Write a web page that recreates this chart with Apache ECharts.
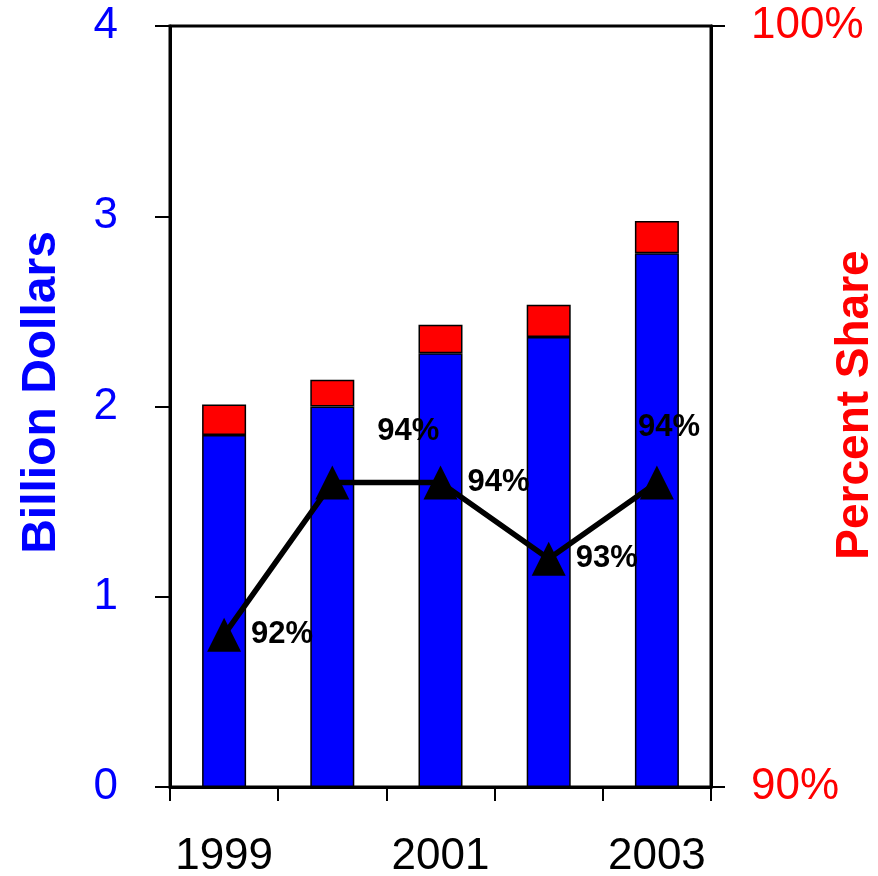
<!DOCTYPE html>
<html>
<head>
<meta charset="utf-8">
<script src="https://cdn.jsdelivr.net/npm/echarts@6/dist/echarts.min.js"></script>
<style>
  html, body { margin: 0; padding: 0; background: #fff; }
  #chart { width: 878px; height: 876px; }
</style>
</head>
<body>
<div id="chart"></div>
<script>
// Annual values (billion dollars) split into the main part and the remainder
const years = ['1999', '2000', '2001', '2002', '2003'];
const mainPart = [1.85, 2.0, 2.28, 2.365, 2.805];
const remainder = [0.16, 0.14, 0.15, 0.17, 0.17];
// Percent share for each year (right axis)
const shareValues = [92, 94, 94, 93, 94];

// Per-point label nudges for the share line
const labelOffsets = [[0, 0], [18, -51], [0, 0], [0, 0], [-46, -55]];

const font = '"Liberation Sans", Arial, sans-serif';

const chart = echarts.init(document.getElementById('chart'), null, { renderer: 'canvas' });

chart.setOption({
  animation: false,
  backgroundColor: '#ffffff',
  grid: {
    left: 170, right: 167, top: 26, bottom: 89,
    containLabel: false,
    outerBoundsMode: 'none',
    show: true, borderColor: '#000', borderWidth: 3
  },
  // Title of the right-hand (percent) axis, set vertically beside it
  graphic: [
    {
      type: 'text',
      x: 855,
      y: 405,
      rotation: Math.PI / 2,
      style: {
        text: 'Percent Share',
        fill: '#FF0000',
        font: 'bold 46px "Liberation Sans", Arial, sans-serif',
        align: 'center',
        verticalAlign: 'middle'
      }
    }
  ],
  xAxis: {
    type: 'category',
    data: years,
    boundaryGap: true,
    axisLine: { show: true, lineStyle: { color: '#000', width: 3 } },
    axisTick: { show: true, inside: false, length: 14, interval: 0, lineStyle: { color: '#000', width: 2 } },
    axisLabel: { interval: 1, margin: 48, color: '#000', fontSize: 44, fontFamily: font }
  },
  yAxis: [
    {
      type: 'value',
      min: 0, max: 4, interval: 1,
      name: 'Billion Dollars',
      nameLocation: 'middle',
      nameRotate: 90,
      nameGap: 104,
      nameTextStyle: { color: '#0000FF', fontSize: 48, fontWeight: 'bold', fontFamily: font, padding: [0, 0, 0, 28] },
      splitLine: { show: false },
      axisLine: { show: true, lineStyle: { color: '#000', width: 3 } },
      axisTick: { show: true, inside: false, length: 15, lineStyle: { color: '#000', width: 2 } },
      axisLabel: { margin: 52, color: '#0000FF', fontSize: 44, fontFamily: font }
    },
    {
      type: 'value',
      min: 90, max: 100, interval: 10,
      position: 'right',
      splitLine: { show: false },
      axisLine: { show: true, lineStyle: { color: '#000', width: 3 } },
      axisTick: { show: true, inside: false, length: 14, lineStyle: { color: '#000', width: 2 } },
      axisLabel: { margin: 40, color: '#FF0000', fontSize: 44, fontFamily: font, formatter: '{value}%' }
    }
  ],
  series: [
    {
      type: 'bar',
      stack: 'total',
      data: mainPart,
      barWidth: 44,
      itemStyle: { color: '#0000FF', borderColor: '#000', borderWidth: 1.5 }
    },
    {
      type: 'bar',
      stack: 'total',
      data: remainder,
      barWidth: 44,
      itemStyle: { color: '#FF0000', borderColor: '#000', borderWidth: 1.5 }
    },
    {
      type: 'line',
      yAxisIndex: 1,
      data: shareValues.map((v, i) => ({
        value: v,
        label: { offset: labelOffsets[i] }
      })),
      symbol: 'triangle',
      symbolSize: [34, 34],
      lineStyle: { color: '#000', width: 5.5 },
      itemStyle: { color: '#000' },
      z: 5,
      label: {
        show: true,
        position: 'right',
        distance: 10,
        formatter: '{c}%',
        color: '#000',
        fontSize: 31,
        fontWeight: 'bold',
        fontFamily: font
      }
    }
  ]
});
</script>
</body>
</html>
